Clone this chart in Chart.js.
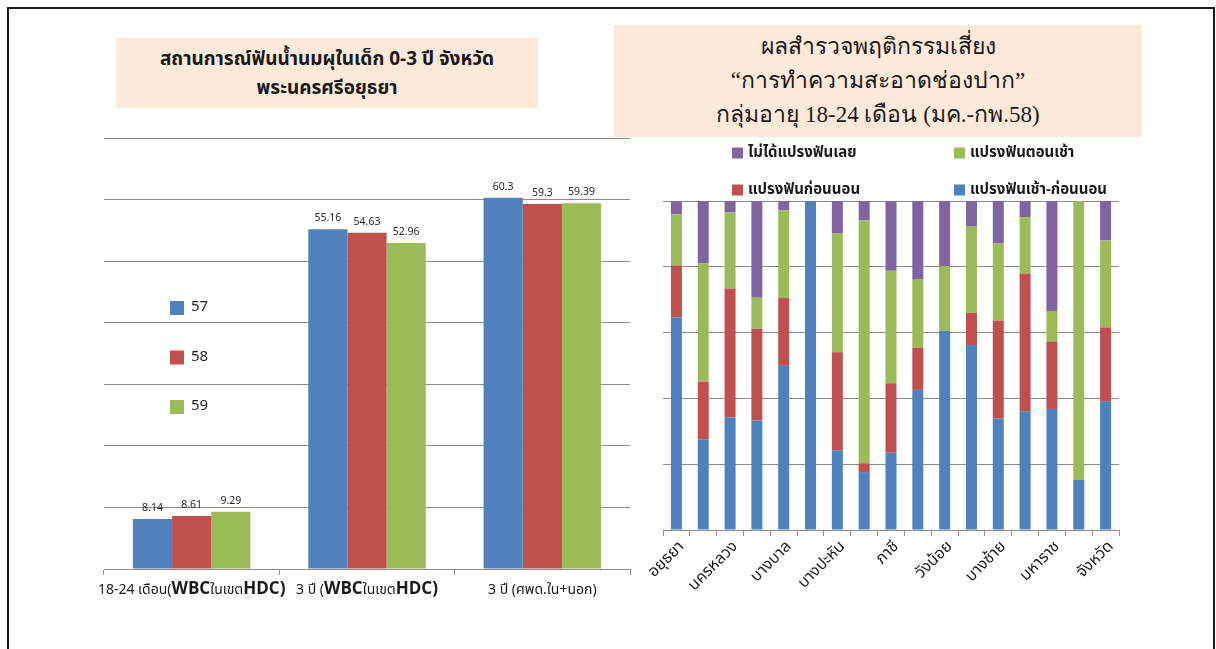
<!DOCTYPE html>
<html>
<head>
<meta charset="utf-8">
<script src="https://cdn.jsdelivr.net/npm/chart.js@4.4.1/dist/chart.umd.min.js"></script>
<style>
  html, body { margin: 0; padding: 0; background: #fff; }
  body { width: 1216px; height: 649px; position: relative; overflow: hidden;
         font-family: Tahoma, "Noto Sans Thai", "Noto Sans", sans-serif; }
  .frame { position: absolute; left: 7px; top: 7px; width: 1204px; height: 660px;
           border: 2px solid #1a1a1a; border-bottom: none; }
  .box { position: absolute; background: #fde9da; text-align: center; color: #1a1a1a; }
  #titleLeft { left: 116px; top: 38px; width: 422px; height: 70px; font-weight: bold;
               font-size: 19px; line-height: 29px; padding-top: 7px; box-sizing: border-box; }
  #titleRight { left: 614px; top: 25px; width: 528px; height: 112px;
                font-family: "Liberation Serif", "Times New Roman", serif;
                font-size: 23px; line-height: 34px; padding-top: 5px; box-sizing: border-box; }
  canvas { position: absolute; }
  #leftWrap { position: absolute; left: 60px; top: 120px; width: 600px; height: 500px; }
  #rightWrap { position: absolute; left: 620px; top: 140px; width: 560px; height: 500px; }
</style>
</head>
<body>
<div class="frame"></div>
<div class="box" id="titleLeft">สถานการณ์ฟันน้ำนมผุในเด็ก 0-3 ปี จังหวัด<br>พระนครศรีอยุธยา</div>
<div class="box" id="titleRight">ผลสำรวจพฤติกรรมเสี่ยง<br>“การทำความสะอาดช่องปาก”<br>กลุ่มอายุ 18-24 เดือน (มค.-กพ.58)</div>
<div id="leftWrap"><canvas id="cariesChart" width="600" height="500"></canvas></div>
<div id="rightWrap"><canvas id="brushChart" width="560" height="500"></canvas></div>

<script>
// ---- Caries prevalence, children 0-3 years ----
const ageGroups = ["18-24 เดือน(WBCในเขตHDC)", "3 ปี (WBCในเขตHDC)", "3 ปี (ศพด.ใน+นอก)"];
const yearLabels = ["57", "58", "59"];
const caries57 = [8.14, 55.16, 60.3];
const caries58 = [8.61, 54.63, 59.3];
const caries59 = [9.29, 52.96, 59.39];
const cariesTicks = [0, 10, 20, 30, 40, 50, 60, 70];

// ---- Tooth brushing behaviour, 18-24 months, by district ----
const districts = ["อยุธยา", "ท่าเรือ", "นครหลวง", "บางไทร", "บางบาล", "บางปะอิน", "บางปะหัน",
  "ผักไห่", "ภาชี", "ลาดบัวหลวง", "วังน้อย", "เสนา", "บางซ้าย", "อุทัย", "มหาราช", "บ้านแพรก", "จังหวัด"];
const brushLabels = ["แปรงฟันเช้า-ก่อนนอน", "แปรงฟันก่อนนอน", "แปรงฟันตอนเช้า", "ไม่ได้แปรงฟันเลย"];
const brushBoth    = [64.7, 27.6, 34.2, 33.3, 49.9, 100, 24.2, 17.6, 23.5, 42.6, 60.5, 56.2, 33.9, 36.1, 36.8, 15.2, 39.1];
const brushNight   = [15.7, 17.5, 39.2, 27.9, 20.6, 0, 29.8, 2.7, 21.1, 12.8, 0, 9.8, 29.8, 41.9, 20.5, 0, 22.5];
const brushMorning = [15.5, 35.9, 23.1, 9.4, 26.7, 0, 36.1, 73.8, 34.2, 20.7, 19.7, 26.4, 23.5, 17.1, 9.3, 84.8, 26.4];
const brushNone    = [4.1, 19.0, 3.5, 29.4, 2.8, 0, 9.9, 5.9, 21.2, 23.9, 19.8, 7.6, 12.8, 4.9, 33.4, 0, 12.0];

const BLUE = "#4f81bd", RED = "#c0504d", GREEN = "#9bbb59", PURPLE = "#8064a2";
const GRID = "#8c8c8c";
const THAI = 'Tahoma, "Noto Sans Thai", "Noto Sans", sans-serif';

// value labels above each bar
const valueLabels = {
  id: "valueLabels",
  afterDatasetsDraw(chart) {
    const ctx = chart.ctx;
    ctx.save();
    ctx.font = "10.5px " + THAI;
    ctx.fillStyle = "#262626";
    ctx.textAlign = "center";
    ctx.textBaseline = "bottom";
    chart.data.datasets.forEach((ds, i) => {
      chart.getDatasetMeta(i).data.forEach((bar, j) => {
        ctx.fillText(String(ds.data[j]), bar.x, bar.y - 5);
      });
    });
    ctx.restore();
  }
};

// category labels mixing small Thai text with larger bold Latin parts
const richCategoryLabels = {
  id: "richCategoryLabels",
  afterDraw(chart) {
    const ctx = chart.ctx, xs = chart.scales.x;
    const y = chart.chartArea.bottom + 22;
    ctx.save();
    ctx.textBaseline = "middle";
    ctx.fillStyle = "#1a1a1a";
    chart.data.labels.forEach((label, i) => {
      const parts = label.split(/(WBC|HDC\))/).filter(s => s.length);
      const fonts = parts.map(p => /^(WBC|HDC\))$/.test(p) ? "bold 17px " + THAI : "14px " + THAI);
      let total = 0;
      const widths = parts.map((p, k) => { ctx.font = fonts[k]; const w = ctx.measureText(p).width; total += w; return w; });
      let x = xs.getPixelForValue(i) - total / 2;
      parts.forEach((p, k) => {
        ctx.font = fonts[k];
        ctx.textAlign = "left";
        ctx.fillText(p, x, y);
        x += widths[k];
      });
    });
    ctx.restore();
  }
};

// vertical legend inside the plot area
const yearLegend = {
  id: "yearLegend",
  afterDraw(chart) {
    const ctx = chart.ctx, a = chart.chartArea;
    ctx.save();
    ctx.font = "15px " + THAI;
    ctx.textBaseline = "middle";
    ctx.textAlign = "left";
    chart.data.datasets.forEach((ds, i) => {
      const cx = a.left + 66, cy = a.top + 170 + i * 49.5;
      ctx.fillStyle = ds.backgroundColor;
      ctx.fillRect(cx, cy - 7, 14, 14);
      ctx.fillStyle = "#262626";
      ctx.fillText(ds.label, cx + 21, cy);
    });
    ctx.restore();
  }
};

new Chart(document.getElementById("cariesChart"), {
  type: "bar",
  data: {
    labels: ageGroups,
    datasets: [
      { label: yearLabels[0], data: caries57, backgroundColor: BLUE },
      { label: yearLabels[1], data: caries58, backgroundColor: RED },
      { label: yearLabels[2], data: caries59, backgroundColor: GREEN }
    ]
  },
  options: {
    responsive: false,
    animation: false,
    layout: { padding: { left: 44, right: 30, top: 18, bottom: 0 } },
    datasets: { bar: { categoryPercentage: 0.67, barPercentage: 1.0, borderWidth: 0 } },
    plugins: { legend: { display: false }, tooltip: { enabled: false }, title: { display: false } },
    scales: {
      x: {
        grid: { offset: true, drawOnChartArea: false, drawTicks: true, tickLength: 6, color: GRID },
        border: { display: true, color: GRID },
        ticks: { display: false },
        afterFit(s) { s.height = 51; }
      },
      y: {
        min: 0, max: 70,
        afterBuildTicks(s) { s.ticks = cariesTicks.map(v => ({ value: v })); },
        grid: { color: GRID, drawTicks: false },
        border: { display: false },
        ticks: { display: false },
        afterFit(s) { s.width = 0; }
      }
    }
  },
  plugins: [valueLabels, richCategoryLabels, yearLegend]
});

// 2x2 legend above the stacked chart, top series first
const brushLegend = {
  id: "brushLegend",
  afterDraw(chart) {
    const ctx = chart.ctx;
    const order = [3, 2, 1, 0];
    ctx.save();
    ctx.font = "bold 15px " + THAI;
    ctx.textBaseline = "middle";
    ctx.textAlign = "left";
    order.forEach((di, k) => {
      const ds = chart.data.datasets[di];
      const x = 112 + (k % 2) * 222, y = 13 + Math.floor(k / 2) * 37;
      ctx.fillStyle = ds.backgroundColor;
      ctx.fillRect(x, y - 5.5, 11, 11);
      ctx.fillStyle = "#1a1a1a";
      ctx.fillText(ds.label, x + 16, y + 1);
    });
    ctx.restore();
  }
};

new Chart(document.getElementById("brushChart"), {
  type: "bar",
  data: {
    labels: districts,
    datasets: [
      { label: brushLabels[0], data: brushBoth, backgroundColor: BLUE },
      { label: brushLabels[1], data: brushNight, backgroundColor: RED },
      { label: brushLabels[2], data: brushMorning, backgroundColor: GREEN },
      { label: brushLabels[3], data: brushNone, backgroundColor: PURPLE }
    ]
  },
  options: {
    responsive: false,
    animation: false,
    layout: { padding: { left: 43, right: 61, top: 61, bottom: 0 } },
    datasets: { bar: { categoryPercentage: 1.0, barPercentage: 0.41, borderWidth: 0 } },
    plugins: { legend: { display: false }, tooltip: { enabled: false }, title: { display: false } },
    scales: {
      x: {
        stacked: true,
        grid: { offset: true, drawOnChartArea: false, drawTicks: true, tickLength: 6, color: GRID },
        border: { display: true, color: GRID },
        ticks: {
          autoSkip: false, minRotation: 45, maxRotation: 45, labelOffset: 6,
          color: "#1a1a1a", font: { family: THAI, size: 16 }, padding: 2,
          callback(v, i) { return i % 2 === 0 ? this.getLabelForValue(v) : ""; }
        },
        afterFit(s) { s.height = 110; }
      },
      y: {
        stacked: true, min: 0, max: 100,
        ticks: { display: false, stepSize: 20 },
        grid: { color: GRID, drawTicks: false },
        border: { display: false },
        afterFit(s) { s.width = 0; }
      }
    }
  },
  plugins: [brushLegend]
});
</script>
</body>
</html>
